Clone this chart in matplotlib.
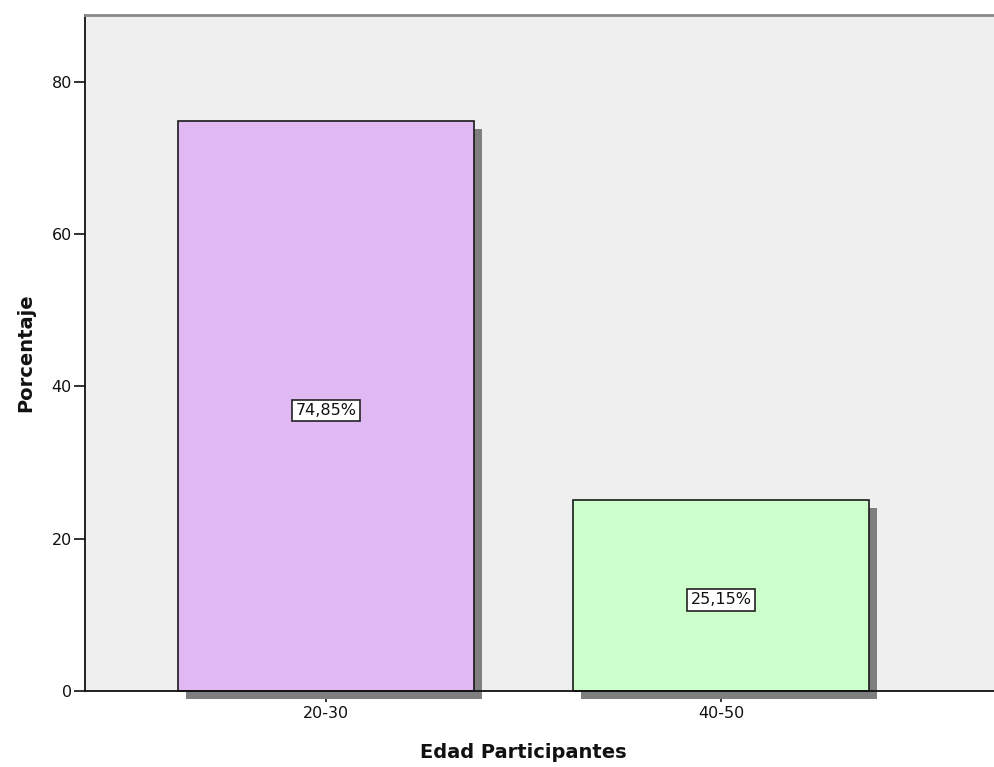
import matplotlib
matplotlib.use("Agg")
import matplotlib.pyplot as plt
import matplotlib.patheffects as pe
import matplotlib.transforms as mtransforms

# data
categories = ["20-30", "40-50"]
percentages = [74.85, 25.15]
bar_colors = ["#E0B9F2", "#CCFFCC"]
y_ticks = [0, 20, 40, 60, 80]

plt.rcParams["font.family"] = "DejaVu Sans"

fig = plt.figure(figsize=(9.95, 7.67), dpi=100)
ax = fig.add_axes([85 / 995, 76 / 767, 910 / 995, 676 / 767])
ax.set_facecolor("#EFEFEF")
ax.set_axisbelow(True)

x = list(range(len(categories)))
bars = ax.bar(x, percentages, width=0.75, color=bar_colors,
              edgecolor="#1a1a1a", linewidth=1.2, clip_on=False)
for b in bars:
    b.set_path_effects([
        pe.SimplePatchShadow(offset=(5.8, -5.8), shadow_rgbFace="#7f7f7f", alpha=1.0),
        pe.Normal(),
    ])

for xi, v in zip(x, percentages):
    lbl = f"{v:.2f}".replace(".", ",") + "%"
    ax.text(xi, v / 2 - 0.6, lbl, ha="center", va="center", fontsize=11.5, color="#111",
            bbox=dict(boxstyle="square,pad=0.2", fc="white", ec="#222", lw=1.2))

ax.set_xlim(-0.61, 1.694)
ax.set_ylim(0, 88.8)
ax.set_xticks(x)
ax.set_xticklabels(categories)
ax.set_yticks(y_ticks)

ax.tick_params(axis="y", direction="out", length=8, width=1.2, pad=1.5,
               labelsize=11.5, colors="#111")
ax.tick_params(axis="x", direction="out", length=8, width=1.2, pad=3,
               labelsize=11.5, colors="#111")

for s in ["left", "bottom"]:
    ax.spines[s].set_color("#111")
    ax.spines[s].set_linewidth(1.3)
ax.spines["top"].set_color("#8a8a8a")
ax.spines["top"].set_linewidth(2)
ax.spines["right"].set_visible(False)

ax.set_ylabel("Porcentaje", fontsize=14, fontweight="bold", color="#111")
ax.yaxis.set_label_coords(26 / 995, 0.5,
                          transform=mtransforms.blended_transform_factory(fig.transFigure, ax.transAxes))
ax.set_xlabel("Edad Participantes", fontsize=14, fontweight="bold", color="#111")
ax.xaxis.set_label_coords(0.5, 15 / 767,
                          transform=mtransforms.blended_transform_factory(ax.transData, fig.transFigure))
ax.xaxis.label.set_va("center")
ax.yaxis.label.set_va("center")

fig.savefig("out.png", dpi=100, facecolor="white")
